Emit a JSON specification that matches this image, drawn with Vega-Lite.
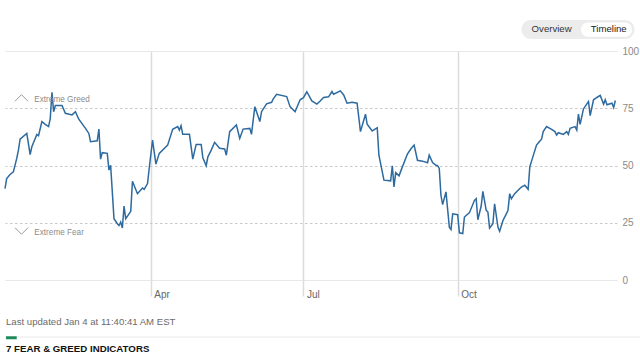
{
  "$schema": "https://vega.github.io/schema/vega-lite/v6.json",
  "width": 612,
  "height": 229,
  "autosize": {"type": "none"},
  "padding": {"left": 5, "top": 51, "right": 23, "bottom": 81},
  "background": "#ffffff",
  "config": {"view": {"stroke": null}, "font": "Liberation Sans"},
  "layer": [
    {
      "data": {"values": [
        {"date": "2023-01-04", "value": 39.9},
        {"date": "2023-01-05", "value": 44.3},
        {"date": "2023-01-07", "value": 46.1},
        {"date": "2023-01-09", "value": 47.2},
        {"date": "2023-01-11", "value": 53.1},
        {"date": "2023-01-12", "value": 56.7},
        {"date": "2023-01-13", "value": 61.5},
        {"date": "2023-01-17", "value": 64.0},
        {"date": "2023-01-19", "value": 54.8},
        {"date": "2023-01-20", "value": 58.2},
        {"date": "2023-01-23", "value": 63.6},
        {"date": "2023-01-24", "value": 63.0},
        {"date": "2023-01-26", "value": 69.2},
        {"date": "2023-01-28", "value": 68.0},
        {"date": "2023-01-30", "value": 67.0},
        {"date": "2023-01-31", "value": 70.6},
        {"date": "2023-02-01", "value": 82.0},
        {"date": "2023-02-02", "value": 73.5},
        {"date": "2023-02-03", "value": 76.2},
        {"date": "2023-02-07", "value": 76.2},
        {"date": "2023-02-09", "value": 72.8},
        {"date": "2023-02-13", "value": 72.1},
        {"date": "2023-02-15", "value": 73.5},
        {"date": "2023-02-17", "value": 70.2},
        {"date": "2023-02-21", "value": 66.2},
        {"date": "2023-02-23", "value": 64.0},
        {"date": "2023-02-24", "value": 60.4},
        {"date": "2023-02-28", "value": 60.8},
        {"date": "2023-03-01", "value": 65.9},
        {"date": "2023-03-02", "value": 52.8},
        {"date": "2023-03-03", "value": 55.6},
        {"date": "2023-03-06", "value": 55.3},
        {"date": "2023-03-07", "value": 48.0},
        {"date": "2023-03-08", "value": 50.1},
        {"date": "2023-03-10", "value": 26.8},
        {"date": "2023-03-12", "value": 24.6},
        {"date": "2023-03-13", "value": 23.8},
        {"date": "2023-03-14", "value": 25.3},
        {"date": "2023-03-15", "value": 22.7},
        {"date": "2023-03-16", "value": 32.3},
        {"date": "2023-03-17", "value": 26.8},
        {"date": "2023-03-20", "value": 30.0},
        {"date": "2023-03-21", "value": 43.1},
        {"date": "2023-03-24", "value": 37.7},
        {"date": "2023-03-27", "value": 40.2},
        {"date": "2023-03-28", "value": 39.6},
        {"date": "2023-03-30", "value": 42.1},
        {"date": "2023-03-31", "value": 48.7},
        {"date": "2023-04-02", "value": 61.1},
        {"date": "2023-04-04", "value": 50.6},
        {"date": "2023-04-06", "value": 55.3},
        {"date": "2023-04-10", "value": 58.2},
        {"date": "2023-04-11", "value": 58.9},
        {"date": "2023-04-14", "value": 65.8},
        {"date": "2023-04-17", "value": 67.0},
        {"date": "2023-04-18", "value": 65.5},
        {"date": "2023-04-19", "value": 67.4},
        {"date": "2023-04-20", "value": 63.6},
        {"date": "2023-04-24", "value": 63.6},
        {"date": "2023-04-26", "value": 52.8},
        {"date": "2023-04-28", "value": 59.2},
        {"date": "2023-05-01", "value": 59.2},
        {"date": "2023-05-02", "value": 53.4},
        {"date": "2023-05-04", "value": 49.9},
        {"date": "2023-05-05", "value": 53.8},
        {"date": "2023-05-07", "value": 56.7},
        {"date": "2023-05-09", "value": 60.1},
        {"date": "2023-05-12", "value": 57.5},
        {"date": "2023-05-15", "value": 57.2},
        {"date": "2023-05-16", "value": 54.5},
        {"date": "2023-05-18", "value": 64.8},
        {"date": "2023-05-22", "value": 67.7},
        {"date": "2023-05-24", "value": 61.8},
        {"date": "2023-05-26", "value": 65.9},
        {"date": "2023-05-30", "value": 66.2},
        {"date": "2023-05-31", "value": 63.6},
        {"date": "2023-06-02", "value": 75.7},
        {"date": "2023-06-05", "value": 69.2},
        {"date": "2023-06-06", "value": 73.5},
        {"date": "2023-06-09", "value": 76.9},
        {"date": "2023-06-12", "value": 77.6},
        {"date": "2023-06-13", "value": 79.1},
        {"date": "2023-06-15", "value": 81.1},
        {"date": "2023-06-21", "value": 80.1},
        {"date": "2023-06-23", "value": 75.7},
        {"date": "2023-06-26", "value": 73.5},
        {"date": "2023-06-29", "value": 78.7},
        {"date": "2023-07-01", "value": 79.6},
        {"date": "2023-07-03", "value": 82.2},
        {"date": "2023-07-06", "value": 78.2},
        {"date": "2023-07-09", "value": 76.8},
        {"date": "2023-07-11", "value": 78.2},
        {"date": "2023-07-13", "value": 79.7},
        {"date": "2023-07-16", "value": 80.0},
        {"date": "2023-07-18", "value": 82.3},
        {"date": "2023-07-19", "value": 81.1},
        {"date": "2023-07-23", "value": 82.6},
        {"date": "2023-07-25", "value": 80.8},
        {"date": "2023-07-27", "value": 77.2},
        {"date": "2023-07-30", "value": 77.6},
        {"date": "2023-08-02", "value": 77.2},
        {"date": "2023-08-04", "value": 64.8},
        {"date": "2023-08-07", "value": 72.4},
        {"date": "2023-08-08", "value": 68.0},
        {"date": "2023-08-11", "value": 65.1},
        {"date": "2023-08-14", "value": 66.5},
        {"date": "2023-08-15", "value": 54.5},
        {"date": "2023-08-18", "value": 43.6},
        {"date": "2023-08-22", "value": 43.3},
        {"date": "2023-08-23", "value": 49.9},
        {"date": "2023-08-24", "value": 40.6},
        {"date": "2023-08-25", "value": 46.9},
        {"date": "2023-08-27", "value": 45.5},
        {"date": "2023-08-29", "value": 49.4},
        {"date": "2023-09-01", "value": 55.0},
        {"date": "2023-09-03", "value": 57.2},
        {"date": "2023-09-05", "value": 58.9},
        {"date": "2023-09-07", "value": 52.3},
        {"date": "2023-09-10", "value": 51.9},
        {"date": "2023-09-13", "value": 51.2},
        {"date": "2023-09-14", "value": 54.5},
        {"date": "2023-09-16", "value": 51.3},
        {"date": "2023-09-18", "value": 50.1},
        {"date": "2023-09-19", "value": 49.9},
        {"date": "2023-09-20", "value": 48.7},
        {"date": "2023-09-21", "value": 37.0},
        {"date": "2023-09-22", "value": 32.9},
        {"date": "2023-09-24", "value": 38.5},
        {"date": "2023-09-26", "value": 23.1},
        {"date": "2023-09-27", "value": 22.1},
        {"date": "2023-09-28", "value": 28.9},
        {"date": "2023-10-01", "value": 28.5},
        {"date": "2023-10-02", "value": 20.6},
        {"date": "2023-10-04", "value": 20.3},
        {"date": "2023-10-05", "value": 27.5},
        {"date": "2023-10-08", "value": 29.4},
        {"date": "2023-10-11", "value": 34.8},
        {"date": "2023-10-12", "value": 35.5},
        {"date": "2023-10-13", "value": 26.3},
        {"date": "2023-10-15", "value": 32.3},
        {"date": "2023-10-16", "value": 38.7},
        {"date": "2023-10-18", "value": 30.4},
        {"date": "2023-10-19", "value": 29.7},
        {"date": "2023-10-20", "value": 22.7},
        {"date": "2023-10-22", "value": 24.6},
        {"date": "2023-10-23", "value": 33.3},
        {"date": "2023-10-25", "value": 23.1},
        {"date": "2023-10-26", "value": 21.3},
        {"date": "2023-10-28", "value": 26.0},
        {"date": "2023-10-30", "value": 28.9},
        {"date": "2023-10-31", "value": 30.4},
        {"date": "2023-11-01", "value": 37.7},
        {"date": "2023-11-02", "value": 35.5},
        {"date": "2023-11-04", "value": 37.7},
        {"date": "2023-11-06", "value": 39.2},
        {"date": "2023-11-08", "value": 40.6},
        {"date": "2023-11-10", "value": 41.4},
        {"date": "2023-11-12", "value": 39.6},
        {"date": "2023-11-13", "value": 49.4},
        {"date": "2023-11-15", "value": 54.2},
        {"date": "2023-11-17", "value": 58.9},
        {"date": "2023-11-19", "value": 60.7},
        {"date": "2023-11-20", "value": 61.5},
        {"date": "2023-11-21", "value": 64.8},
        {"date": "2023-11-23", "value": 67.0},
        {"date": "2023-11-26", "value": 65.8},
        {"date": "2023-11-28", "value": 64.8},
        {"date": "2023-11-29", "value": 63.3},
        {"date": "2023-11-30", "value": 64.3},
        {"date": "2023-12-03", "value": 63.6},
        {"date": "2023-12-05", "value": 64.8},
        {"date": "2023-12-06", "value": 63.6},
        {"date": "2023-12-07", "value": 66.2},
        {"date": "2023-12-10", "value": 67.0},
        {"date": "2023-12-11", "value": 65.5},
        {"date": "2023-12-12", "value": 72.4},
        {"date": "2023-12-13", "value": 68.0},
        {"date": "2023-12-15", "value": 74.7},
        {"date": "2023-12-18", "value": 77.9},
        {"date": "2023-12-19", "value": 71.8},
        {"date": "2023-12-21", "value": 78.7},
        {"date": "2023-12-23", "value": 79.7},
        {"date": "2023-12-25", "value": 80.6},
        {"date": "2023-12-27", "value": 76.8},
        {"date": "2023-12-28", "value": 78.7},
        {"date": "2023-12-29", "value": 76.5},
        {"date": "2024-01-01", "value": 77.2},
        {"date": "2024-01-02", "value": 75.3},
        {"date": "2024-01-03", "value": 78.4}
      ]},
      "mark": {"type": "line", "color": "#2d6a9f", "strokeWidth": 1.5, "zindex": 2},
      "encoding": {
        "x": {
          "field": "date",
          "type": "temporal",
          "title": null,
          "scale": {"type": "utc", "domain": [{"year": 2023, "month": 1, "date": 4, "utc": true}, {"year": 2024, "month": 1, "date": 4, "utc": true}]},
          "axis": {
            "values": [{"year": 2023, "month": 4, "date": 1, "utc": true}, {"year": 2023, "month": 7, "date": 1, "utc": true}, {"year": 2023, "month": 10, "date": 1, "utc": true}],
            "format": "%b",
            "domain": false,
            "ticks": true,
            "tickSize": 16,
            "tickColor": "#dcdcdc",
            "tickWidth": 1.5,
            "grid": true,
            "gridColor": "#dcdcdc",
            "gridWidth": 1.5,
            "labelAlign": "left",
            "labelBaseline": "top",
            "labelPadding": -7,
            "labelOffset": 3,
            "labelColor": "#666666",
            "labelFontSize": 10,
            "labelFont": "Liberation Sans"
          }
        },
        "y": {
          "field": "value",
          "type": "quantitative",
          "title": null,
          "scale": {"domain": [0, 100], "nice": false, "zero": false},
          "axis": {
            "orient": "right",
            "values": [0, 25, 50, 75, 100],
            "domain": false,
            "ticks": false,
            "grid": true,
            "gridColor": {"condition": {"test": "datum.value === 0 || datum.value === 100", "value": "#e0e0e0"}, "value": "#c8c8c8"},
            "gridDash": {"condition": {"test": "datum.value === 0 || datum.value === 100", "value": [1, 0]}, "value": [2.5, 2.5]},
            "labelColor": "#8a8a8a",
            "labelFontSize": 10,
            "labelFont": "Liberation Sans",
            "labelPadding": 5
          }
        }
      }
    },
    {
      "data": {"values": [{}]},
      "mark": {"type": "rect", "fill": "#ececec", "cornerRadius": 9.5},
      "encoding": {
        "x": {"datum": {"year": 2023, "month": 11, "date": 8, "hours": 1, "utc": true}, "type": "temporal"},
        "x2": {"datum": {"year": 2024, "month": 1, "date": 14, "hours": 10, "utc": true}},
        "y": {"datum": 113.5, "type": "quantitative"},
        "y2": {"datum": 105.2}
      }
    },
    {
      "data": {"values": [{}]},
      "mark": {"type": "rect", "fill": "#ffffff", "cornerRadius": 8},
      "encoding": {
        "x": {"datum": {"year": 2023, "month": 12, "date": 13, "hours": 12, "utc": true}, "type": "temporal"},
        "x2": {"datum": {"year": 2024, "month": 1, "date": 12, "hours": 23, "utc": true}},
        "y": {"datum": 112.4, "type": "quantitative"},
        "y2": {"datum": 106.2}
      }
    },
    {
      "data": {"values": [{}]},
      "mark": {"type": "text", "text": "Overview", "fontSize": 9.6, "color": "#333333", "align": "center", "baseline": "middle"},
      "encoding": {
        "x": {"datum": {"year": 2023, "month": 11, "date": 26, "utc": true}, "type": "temporal"},
        "y": {"datum": 109.6, "type": "quantitative"}
      }
    },
    {
      "data": {"values": [{}]},
      "mark": {"type": "text", "text": "Timeline", "fontSize": 9.6, "color": "#1a1a1a", "align": "center", "baseline": "middle"},
      "encoding": {
        "x": {"datum": {"year": 2023, "month": 12, "date": 30, "hours": 2, "utc": true}, "type": "temporal"},
        "y": {"datum": 109.6, "type": "quantitative"}
      }
    },
    {
      "data": {"values": [{}]},
      "mark": {"type": "point", "shape": "M-1,0.5L0,-0.5L1,0.5", "filled": false, "stroke": "#9a9a9a", "strokeWidth": 1, "size": 169, "opacity": 1},
      "encoding": {
        "x": {"datum": {"year": 2023, "month": 1, "date": 13, "hours": 20, "utc": true}, "type": "temporal"},
        "y": {"datum": 79.5, "type": "quantitative"}
      }
    },
    {
      "data": {"values": [{}]},
      "mark": {"type": "point", "shape": "M-1,-0.5L0,0.5L1,-0.5", "filled": false, "stroke": "#9a9a9a", "strokeWidth": 1, "size": 169, "opacity": 1},
      "encoding": {
        "x": {"datum": {"year": 2023, "month": 1, "date": 13, "hours": 20, "utc": true}, "type": "temporal"},
        "y": {"datum": 21.4, "type": "quantitative"}
      }
    },
    {
      "data": {"values": [{}]},
      "mark": {"type": "text", "text": "Extreme Greed", "fontSize": 8.2, "color": "#8c8c8c", "align": "left", "baseline": "middle"},
      "encoding": {
        "x": {"datum": {"year": 2023, "month": 1, "date": 21, "hours": 11, "utc": true}, "type": "temporal"},
        "y": {"datum": 78.6, "type": "quantitative"}
      }
    },
    {
      "data": {"values": [{}]},
      "mark": {"type": "text", "text": "Extreme Fear", "fontSize": 8.2, "color": "#8c8c8c", "align": "left", "baseline": "middle"},
      "encoding": {
        "x": {"datum": {"year": 2023, "month": 1, "date": 21, "hours": 11, "utc": true}, "type": "temporal"},
        "y": {"datum": 20.5, "type": "quantitative"}
      }
    },
    {
      "data": {"values": [{}]},
      "mark": {"type": "text", "text": "Last updated Jan 4 at 11:40:41 AM EST", "fontSize": 9.6, "color": "#6b6b6b", "align": "left", "baseline": "middle", "dx": 1},
      "encoding": {
        "x": {"datum": {"year": 2023, "month": 1, "date": 4, "utc": true}, "type": "temporal"},
        "y": {"datum": -18.3, "type": "quantitative"}
      }
    },
    {
      "data": {"values": [{}]},
      "mark": {"type": "rule", "stroke": "#e8e8e8", "strokeWidth": 1},
      "encoding": {
        "x": {"datum": {"year": 2023, "month": 1, "date": 11, "utc": true}, "type": "temporal"},
        "x2": {"datum": {"year": 2024, "month": 1, "date": 18, "utc": true}},
        "y": {"datum": -24.9, "type": "quantitative"}
      }
    },
    {
      "data": {"values": [{}]},
      "mark": {"type": "rect", "fill": "#1f8a5b"},
      "encoding": {
        "x": {"datum": {"year": 2023, "month": 1, "date": 4, "hours": 14, "utc": true}, "type": "temporal"},
        "x2": {"datum": {"year": 2023, "month": 1, "date": 11, "utc": true}},
        "y": {"datum": -24.6, "type": "quantitative"},
        "y2": {"datum": -25.9}
      }
    },
    {
      "data": {"values": [{}]},
      "mark": {"type": "text", "text": "7 FEAR & GREED INDICATORS", "fontSize": 9.7, "fontWeight": "bold", "color": "#111111", "align": "left", "baseline": "middle", "dx": 1},
      "encoding": {
        "x": {"datum": {"year": 2023, "month": 1, "date": 4, "utc": true}, "type": "temporal"},
        "y": {"datum": -30.1, "type": "quantitative"}
      }
    }
  ]
}
